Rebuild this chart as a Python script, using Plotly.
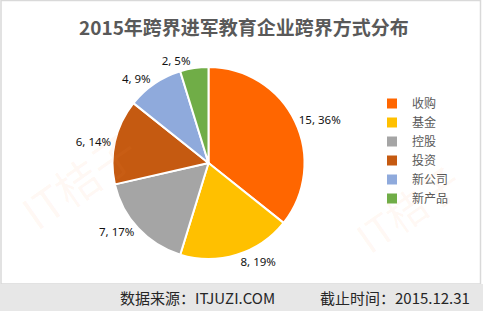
import plotly.graph_objects as go

W, H = 483, 311

categories = ["收购", "基金", "控股", "投资", "新公司", "新产品"]
values = [15, 8, 7, 6, 4, 2]
percent_labels = [36, 19, 17, 14, 9, 5]
colors = ["#FF6600", "#FFC000", "#A5A5A5", "#C55A11", "#8FAADC", "#70AD47"]

title_text = "2015年跨界进军教育企业跨界方式分布"
source_text = "数据来源：ITJUZI.COM"
date_text = "截止时间：2015.12.31"

labels_text = [f"{v}, {p}%" for v, p in zip(values, percent_labels)]

def px(x):
    return x / W

def py(y):
    return 1 - y / H

fig = go.Figure()
fig.add_trace(go.Pie(
    labels=categories,
    values=values,
    text=labels_text,
    texttemplate="%{text}",
    textposition="outside",
    textfont=dict(size=11.5, color="#111111", family="Noto Sans, Noto Sans CJK SC"),
    marker=dict(colors=colors, line=dict(color="white", width=2)),
    sort=False,
    direction="clockwise",
    rotation=0,
    domain=dict(x=[px(112), px(305)], y=[py(259), py(67)]),
    hoverinfo="label+value+percent",
    showlegend=True,
))

shapes = [
    dict(type="rect", xref="paper", yref="paper", x0=px(1), x1=px(480.5), y0=py(284), y1=py(0.5),
         line=dict(color="#D9D9D9", width=1.5), fillcolor="rgba(0,0,0,0)", layer="below"),
    dict(type="rect", xref="paper", yref="paper", x0=0, x1=1, y0=0, y1=py(284),
         line=dict(width=0), fillcolor="#E7E7E7", layer="below"),
]

wm = "rgba(255,150,80,0.07)"
annotations = [
    dict(text=f"<b>{title_text}</b>", x=px(244), y=py(26), xref="paper", yref="paper",
         showarrow=False, xanchor="center", yanchor="middle",
         font=dict(size=19, color="#595959", family="Noto Sans CJK SC")),
    dict(text=source_text, x=px(277), y=py(297), xref="paper", yref="paper",
         showarrow=False, xanchor="right", yanchor="middle",
         font=dict(size=15, color="#262626", family="Noto Sans CJK SC")),
    dict(text=date_text, x=px(472), y=py(297), xref="paper", yref="paper",
         showarrow=False, xanchor="right", yanchor="middle",
         font=dict(size=15, color="#262626", family="Noto Sans CJK SC")),
    dict(text="IT桔子", x=px(5), y=py(180), xref="paper", yref="paper", showarrow=False,
         textangle=-35, font=dict(size=44, color=wm, family="Noto Sans CJK SC")),
    dict(text="IT桔子", x=px(475), y=py(268), xref="paper", yref="paper", showarrow=False,
         xanchor="right", yanchor="bottom",
         textangle=-35, font=dict(size=40, color=wm, family="Noto Sans CJK SC")),
]

fig.update_layout(
    width=W, height=H,
    margin=dict(l=0, r=0, t=0, b=0),
    paper_bgcolor="white",
    plot_bgcolor="white",
    shapes=shapes,
    annotations=annotations,
    legend=dict(x=px(372), y=py(89), xanchor="left", yanchor="top",
                font=dict(size=12, color="#595959", family="Noto Sans CJK SC"),
                itemwidth=30, tracegroupgap=0, bgcolor="rgba(0,0,0,0)"),
)

fig.write_html("out.html")
